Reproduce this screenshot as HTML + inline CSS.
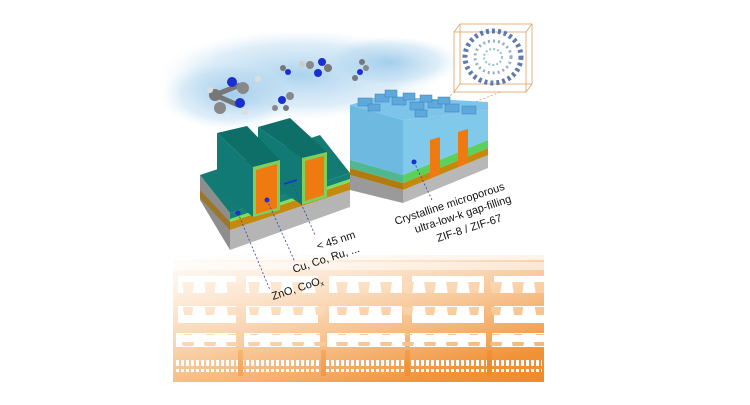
<!DOCTYPE html>
<html><head><style>
html,body{margin:0;padding:0;background:#fff;width:750px;height:405px;overflow:hidden}
svg{display:block}
text{font-family:"Liberation Sans",sans-serif;fill:#111}
</style></head><body>
<svg width="750" height="405" viewBox="0 0 750 405">
<defs>
<linearGradient id="og" x1="0" y1="0" x2="1" y2="1">
<stop offset="0" stop-color="#f7c48e"/><stop offset="1" stop-color="#f08a2a"/></linearGradient>
<linearGradient id="fade" x1="0" y1="0" x2="0.6" y2="1">
<stop offset="0" stop-color="#fff" stop-opacity="1"/><stop offset="0.45" stop-color="#fff" stop-opacity="0.55"/><stop offset="1" stop-color="#fff" stop-opacity="0"/></linearGradient>
<radialGradient id="cloud" cx="0.5" cy="0.5" r="0.5">
<stop offset="0" stop-color="#8fc3e8" stop-opacity="0.75"/><stop offset="0.7" stop-color="#b5d8f0" stop-opacity="0.45"/><stop offset="1" stop-color="#d8ecf8" stop-opacity="0"/></radialGradient>
<pattern id="cups" x="0" y="0" width="22" height="20" patternUnits="userSpaceOnUse">
<path d="M6 2 h12 l-2 13 h-8z" fill="#f6b571"/></pattern>
<pattern id="fine" x="0" y="0" width="5" height="20" patternUnits="userSpaceOnUse">
<rect x="1" y="0" width="3" height="6" fill="#fff"/><rect x="1" y="9" width="3" height="5" fill="#fff"/></pattern>
</defs>

<!-- orange interconnect background -->
<rect x="173" y="255" width="371" height="127" fill="url(#og)"/>
<g fill="#fff">
 <rect x="173" y="262" width="371" height="8" opacity="0.5"/>
 <rect x="178" y="276" width="58" height="17"/><rect x="246" y="276" width="72" height="17"/><rect x="329" y="276" width="73" height="17"/><rect x="412" y="276" width="72" height="17"/><rect x="494" y="276" width="50" height="17"/>
 <rect x="178" y="306" width="58" height="17"/><rect x="246" y="306" width="72" height="17"/><rect x="329" y="306" width="73" height="17"/><rect x="412" y="306" width="72" height="17"/><rect x="494" y="306" width="50" height="17"/>
 <rect x="176" y="333" width="60" height="14"/><rect x="244" y="333" width="76" height="14"/><rect x="327" y="333" width="78" height="14"/><rect x="410" y="333" width="76" height="14"/><rect x="492" y="333" width="52" height="14"/>
</g>
<rect x="173" y="276" width="371" height="17" fill="url(#cups)"/>
<rect x="173" y="307" width="371" height="14" fill="url(#cups)"/>
<rect x="173" y="334" width="371" height="12" fill="url(#cups)"/>
<rect x="176" y="356" width="366" height="16" fill="url(#fine)"/>
<g fill="#f08a2a"><rect x="238" y="350" width="5" height="26"/><rect x="321" y="350" width="5" height="26"/><rect x="405" y="350" width="5" height="26"/><rect x="487" y="350" width="5" height="26"/></g>
<rect x="173" y="250" width="371" height="133" fill="url(#fade)"/>
<rect x="173" y="210" width="371" height="50" fill="#fff" opacity="0.7"/>

<!-- cloud -->
<ellipse cx="300" cy="75" rx="140" ry="45" fill="url(#cloud)"/>
<ellipse cx="230" cy="95" rx="70" ry="35" fill="url(#cloud)"/>
<ellipse cx="390" cy="62" rx="70" ry="26" fill="url(#cloud)"/>

<!-- molecules -->
<g>
 <line x1="215" y1="95" x2="240" y2="85" stroke="#777" stroke-width="5"/><line x1="215" y1="95" x2="238" y2="105" stroke="#777" stroke-width="5"/>
 <circle cx="232" cy="82" r="5" fill="#1a2fd0"/><circle cx="243" cy="88" r="6" fill="#888"/><circle cx="215" cy="95" r="6" fill="#777"/><circle cx="240" cy="103" r="5" fill="#1a2fd0"/><circle cx="220" cy="108" r="6" fill="#888"/><circle cx="210" cy="90" r="3" fill="#ddd"/><circle cx="245" cy="112" r="3" fill="#ddd"/><circle cx="258" cy="79" r="3" fill="#ddd"/>
 <circle cx="283" cy="68" r="3" fill="#777"/><circle cx="288" cy="72" r="3" fill="#1a2fd0"/>
 <circle cx="310" cy="65" r="4" fill="#888"/><circle cx="322" cy="62" r="4" fill="#1a2fd0"/><circle cx="328" cy="68" r="4" fill="#777"/><circle cx="318" cy="73" r="4" fill="#1a2fd0"/><circle cx="302" cy="64" r="3" fill="#ccc"/>
 <circle cx="282" cy="100" r="4" fill="#1a2fd0"/><circle cx="290" cy="96" r="4" fill="#888"/><circle cx="286" cy="108" r="3" fill="#777"/><circle cx="275" cy="108" r="3" fill="#888"/>
 <circle cx="360" cy="72" r="3" fill="#1a2fd0"/><circle cx="366" cy="68" r="3" fill="#888"/><circle cx="355" cy="78" r="3" fill="#777"/><circle cx="362" cy="62" r="3" fill="#777"/>
</g>

<!-- ZIF cube -->
<g stroke="#e0a060" stroke-width="0.8" fill="none">
 <rect x="454" y="32" width="72" height="60"/><rect x="460" y="24" width="72" height="60"/>
 <line x1="454" y1="32" x2="460" y2="24"/><line x1="526" y1="32" x2="532" y2="24"/><line x1="454" y1="92" x2="460" y2="84"/><line x1="526" y1="92" x2="532" y2="84"/>
 <line x1="455" y1="92" x2="420" y2="120" stroke-dasharray="2 2"/><line x1="500" y1="92" x2="430" y2="120" stroke-dasharray="2 2"/>
</g>
<ellipse cx="493" cy="57" rx="28" ry="26" fill="none" stroke="#3a5a9a" stroke-width="5" stroke-dasharray="3 3" opacity="0.8"/>
<ellipse cx="493" cy="57" rx="18" ry="16" fill="none" stroke="#6a8aaa" stroke-width="3" stroke-dasharray="2 3" opacity="0.7"/>
<ellipse cx="493" cy="57" rx="9" ry="8" fill="none" stroke="#48a0a0" stroke-width="2" stroke-dasharray="2 2" opacity="0.6"/>

<!-- LEFT BLOCK -->
<!-- base -->
<polygon points="200,175 230,213 230,250 200,200" fill="#8e8e8e"/>
<polygon points="200,190 230,222 230,230 200,198" fill="#a07010" opacity="0.8"/>
<polygon points="230,230 350,190 350,207 230,250" fill="#b5b5b5"/>
<polygon points="230,222 350,182 350,190 230,230" fill="#c48a10"/>
<polygon points="230,219 350,179 350,182 230,222" fill="#7ee05a"/>
<polygon points="230,213 350,173 350,179 230,219" fill="#168079"/>
<polygon points="200,175 320,135 350,173 230,213" fill="#137a74"/>
<!-- fin 2 (behind) -->
<polygon points="258,127 290,118 327,152 302,158" fill="#0e6e68"/>
<polygon points="258,127 302,158 302,205 258,175" fill="#127a74"/>
<polygon points="302,158 327,152 327,197 302,205" fill="#7ed05a"/>
<polygon points="305,161 324,156 324,195 305,201" fill="#ef7a10"/>
<!-- fin 1 (front) -->
<polygon points="217,133 247,126 280,160 253,167" fill="#0e6e68"/>
<polygon points="217,133 253,167 253,217 217,187" fill="#127a74"/>
<polygon points="253,167 280,160 280,210 253,217" fill="#7ed05a"/>
<polygon points="256,170 277,164 277,208 256,214" fill="#ef7a10"/>
<line x1="284" y1="184" x2="297" y2="180" stroke="#1a2fd0" stroke-width="1.5"/>
<circle cx="238" cy="213" r="2.5" fill="#1a2fd0"/><circle cx="267" cy="200" r="2.5" fill="#1a2fd0"/>
<g stroke="#3344aa" stroke-width="0.8" stroke-dasharray="2 2">
<line x1="238" y1="213" x2="270" y2="290"/><line x1="267" y1="200" x2="295" y2="262"/><line x1="293" y1="185" x2="315" y2="235"/></g>

<!-- RIGHT BLOCK -->
<polygon points="350,175 403,190 403,203 350,190" fill="#9a9a9a"/>
<polygon points="403,190 488,155 488,168 403,203" fill="#b8b8b8"/>
<polygon points="350,168 403,183 403,190 350,175" fill="#b07c10"/>
<polygon points="403,183 488,148 488,155 403,190" fill="#c48a10"/>
<polygon points="350,160 403,175 403,183 350,168" fill="#50b890"/>
<polygon points="403,175 488,140 488,148 403,183" fill="#5bd05b"/>
<polygon points="350,105 403,120 403,175 350,160" fill="#4aa8d8" opacity="0.8"/>
<polygon points="403,120 488,110 488,140 403,175" fill="#6ac0e6" opacity="0.85"/>
<polygon points="430,140 440,137 440,174 430,178" fill="#ef7a10"/>
<polygon points="458,132 468,129 468,163 458,167" fill="#ef7a10"/>
<polygon points="350,105 380,96 488,102 488,110 403,120" fill="#7cc4ea"/>
<g fill="#5ea8dc" stroke="#3a80b8" stroke-width="0.5">
<rect x="358" y="98" width="14" height="8"/><rect x="375" y="94" width="14" height="8"/><rect x="392" y="97" width="14" height="8"/><rect x="410" y="102" width="14" height="8"/><rect x="428" y="100" width="14" height="8"/><rect x="445" y="104" width="14" height="8"/><rect x="462" y="106" width="14" height="8"/><rect x="385" y="90" width="12" height="7"/><rect x="403" y="93" width="12" height="7"/><rect x="420" y="95" width="12" height="7"/><rect x="438" y="97" width="12" height="7"/><rect x="368" y="104" width="12" height="7"/><rect x="415" y="110" width="12" height="7"/></g>
<circle cx="414" cy="162" r="2.5" fill="#1a2fd0"/>
<line x1="414" y1="162" x2="432" y2="200" stroke="#3344aa" stroke-width="0.8" stroke-dasharray="2 2"/>

<!-- labels -->
<text x="318" y="250" font-size="11" transform="rotate(-18 318 250)">&lt; 45 nm</text>
<text x="294" y="273" font-size="11" transform="rotate(-18 294 273)">Cu, Co, Ru, ...</text>
<text x="273" y="300" font-size="11" transform="rotate(-18 273 300)">ZnO, CoO<tspan font-size="7" dy="2">x</tspan></text>
<text x="396" y="225" font-size="11" transform="rotate(-18 396 225)">Crystalline microporous</text>
<text x="416" y="233" font-size="11" transform="rotate(-18 416 233)">ultra-low-k gap-filling</text>
<text x="438" y="242" font-size="11" transform="rotate(-18 438 242)">ZIF-8 / ZIF-67</text>
</svg>
</body></html>
